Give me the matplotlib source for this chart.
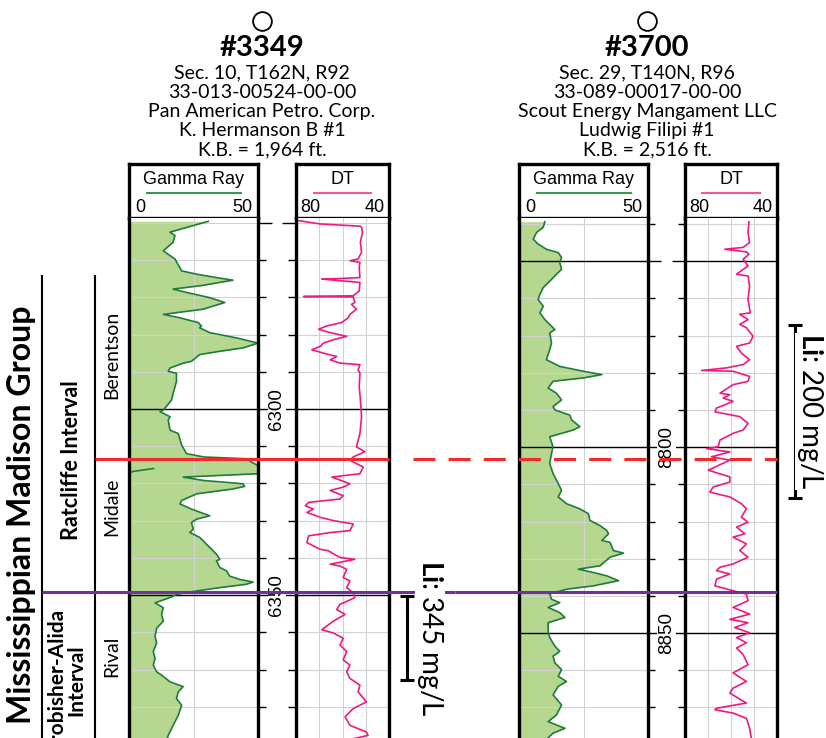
import numpy as np
import matplotlib.pyplot as plt

plt.rcParams['font.family'] = ['Lato', 'DejaVu Sans']
plt.rcParams['mathtext.fontset'] = 'custom'
plt.rcParams['mathtext.rm'] = 'Lato'
plt.rcParams['mathtext.bf'] = 'Lato:bold'

###############################################################################
# well #3349
w1_name = '#3349'
w1_info = ['Sec. 10, T162N, R92', '33-013-00524-00-00', 'Pan American Petro. Corp.',
           'K. Hermanson B #1', 'K.B. = 1,964 ft.']
w1_depth_range = (6248.7, 6388.4)
w1_depth_labels = [6300, 6350]
w1_top_midale = 6313.4
w1_top_rival = 6349.2
w1_li_interval = (6350.3, 6372.8)
w1_li_value = '345 mg/L'

w1_gr_depth = [6249.6, 6252.5, 6253.4, 6255.2, 6257.5, 6258.8, 6259.7, 6262.9, 6263.8, 6264.7,
               6265.4, 6266.0, 6266.8, 6267.8, 6268.7, 6270.1, 6271.4, 6273.2, 6274.6, 6275.5,
               6276.8, 6277.7, 6278.2, 6279.5, 6280.9, 6282.3, 6283.6, 6284.5, 6285.4, 6287.2,
               6287.7, 6289.0, 6289.9, 6290.4, 6292.6, 6295.8, 6297.6, 6300.3, 6300.7, 6302.1,
               6303.0, 6305.7, 6306.6, 6309.7, 6312.0, 6312.9, 6313.4, 6314.3, 6315.2, 6317.4,
               6318.3, 6319.2, 6320.1, 6320.8, 6321.5, 6322.8, 6324.6, 6325.5, 6326.9, 6328.7,
               6329.6, 6330.5, 6332.3, 6333.2, 6334.5, 6336.3, 6339.0, 6340.4, 6340.8, 6342.6,
               6343.5, 6344.9, 6345.8, 6346.5, 6347.1, 6348.0, 6348.9, 6349.8, 6350.5, 6352.1,
               6353.4, 6355.2, 6357.0, 6358.9, 6361.1, 6362.9, 6365.2, 6367.0, 6368.8, 6370.6,
               6371.5, 6373.3, 6374.6, 6376.0, 6377.8, 6379.6, 6382.3, 6385.0, 6387.7, 6389.0]
w1_gr = [30.7, 15.9, 17.8, 17.1, 13.3, 15.9, 17.8, 20.4, 26.2, 33.9,
         40.3, 35.2, 28.7, 17.1, 22.3, 31.3, 37.1, 28.7, 13.3, 19.7,
         26.8, 28.1, 27.4, 31.3, 41.6, 50.0, 44.2, 35.2, 27.4, 24.2,
         21.0, 15.9, 15.2, 18.4, 18.4, 17.1, 16.5, 13.3, 12.0, 15.9,
         15.2, 15.9, 19.1, 20.4, 22.3, 29.0, 46.0, 47.5, 50.0, 50.0,
         21.0, 28.7, 44.2, 44.8, 40.3, 26.2, 20.4, 19.7, 24.2, 31.3,
         26.2, 24.2, 24.9, 23.6, 27.4, 30.0, 33.9, 35.2, 33.9, 35.2,
         37.8, 39.0, 42.9, 48.1, 45.5, 35.2, 26.2, 18.4, 16.5, 10.1,
         13.3, 12.6, 13.3, 10.7, 10.1, 10.7, 9.4, 10.1, 9.4, 10.7,
         12.6, 15.9, 21.0, 19.1, 18.4, 20.4, 19.1, 17.1, 15.2, 14.6]
# wrapped (backup) part of the off-scale peak
w1_gr_wrap_depth = [6316.0, 6316.8, 6317.1]
w1_gr_wrap = [9.5, 1.5, 0.5]

w1_dt_depth = [6249.4, 6250.3, 6250.9, 6251.2, 6252.5, 6255.2, 6257.9, 6259.7, 6260.2, 6260.6,
               6262.0, 6264.7, 6265.0, 6265.1, 6265.4, 6266.0, 6268.3, 6269.6, 6269.8, 6269.9,
               6271.4, 6271.9, 6273.2, 6274.6, 6275.5, 6276.8, 6277.7, 6278.6, 6279.5, 6280.5,
               6281.4, 6282.3, 6283.2, 6284.1, 6285.0, 6285.9, 6286.8, 6287.7, 6288.1, 6289.5,
               6290.4, 6294.0, 6297.6, 6302.1, 6306.6, 6310.2, 6311.5, 6312.9, 6313.8, 6315.6,
               6317.4, 6318.3, 6320.1, 6321.0, 6321.9, 6323.3, 6324.2, 6325.1, 6326.0, 6326.9,
               6327.8, 6329.1, 6330.0, 6330.9, 6332.7, 6333.2, 6334.1, 6335.9, 6336.8, 6337.7,
               6338.1, 6339.9, 6340.4, 6341.7, 6342.2, 6343.1, 6345.3, 6346.2, 6348.0, 6349.4,
               6350.7, 6352.5, 6353.9, 6355.2, 6357.0, 6359.3, 6360.2, 6361.6, 6363.4, 6365.2,
               6367.4, 6368.8, 6370.6, 6372.4, 6374.2, 6376.0, 6378.7, 6380.5, 6382.7, 6385.0,
               6386.8, 6387.7, 6388.6]
w1_dt = [78.9, 69.6, 52.5, 51.8, 51.4, 52.3, 51.8, 53.3, 56.8, 52.5,
         52.8, 52.5, 62.5, 68.9, 63.9, 52.5, 52.8, 55.4, 76.7, 55.4,
         54.7, 56.1, 54.0, 56.8, 57.5, 60.4, 66.8, 70.3, 65.3, 58.2,
         63.9, 68.2, 69.6, 73.2, 68.2, 62.5, 65.3, 61.1, 52.5, 53.3,
         52.5, 52.8, 52.3, 51.8, 52.5, 54.0, 50.4, 55.4, 56.8, 51.1,
         52.5, 64.6, 56.8, 59.7, 65.3, 59.7, 61.1, 74.6, 76.0, 72.5,
         75.3, 69.6, 63.9, 55.4, 56.8, 65.3, 74.6, 75.3, 72.5, 69.6,
         66.1, 61.1, 54.7, 65.3, 61.1, 58.2, 59.7, 56.8, 58.2, 55.4,
         54.7, 61.1, 62.5, 58.9, 63.9, 68.9, 63.9, 59.7, 61.1, 58.2,
         59.7, 56.8, 58.2, 56.8, 52.5, 53.3, 49.7, 55.4, 58.9, 56.8,
         49.7, 49.0, 55.4]

###############################################################################
# well #3700
w2_name = '#3700'
w2_info = ['Sec. 29, T140N, R96', '33-089-00017-00-00', 'Scout Energy Mangament LLC',
           'Ludwig Filipi #1', 'K.B. = 2,516 ft.']
w2_depth_range = (8738.4, 8878.2)
w2_depth_labels = [8800, 8850]
w2_top_midale = 8803.2
w2_top_rival = 8839.0
w2_li_interval = (8767.2, 8813.7)
w2_li_value = '200 mg/L'

w2_gr_depth = [8739.4, 8740.9, 8742.3, 8744.1, 8745.4, 8746.8, 8747.7, 8749.0, 8750.4, 8752.2,
               8753.5, 8754.9, 8757.1, 8758.9, 8760.3, 8762.1, 8763.9, 8765.7, 8767.5, 8768.4,
               8769.3, 8772.0, 8773.8, 8776.5, 8778.3, 8779.6, 8780.5, 8781.4, 8782.3, 8784.1,
               8785.5, 8787.3, 8789.1, 8790.0, 8791.4, 8792.7, 8794.5, 8795.4, 8797.2, 8799.9,
               8801.7, 8804.4, 8807.1, 8809.8, 8811.6, 8813.4, 8815.2, 8816.6, 8817.9, 8819.7,
               8821.1, 8822.4, 8823.3, 8824.7, 8825.1, 8825.6, 8827.8, 8828.5, 8829.6, 8831.9,
               8832.8, 8833.7, 8834.6, 8835.9, 8837.3, 8838.2, 8839.5, 8840.9, 8841.8, 8843.1,
               8844.5, 8845.8, 8847.2, 8849.4, 8851.2, 8853.5, 8854.9, 8856.2, 8858.0, 8859.8,
               8861.6, 8863.0, 8864.3, 8866.6, 8869.3, 8872.0, 8873.8, 8875.6, 8876.9, 8878.6]
w2_gr = [10.0, 9.4, 6.8, 5.5, 7.4, 10.6, 15.2, 16.5, 15.8, 16.5,
         14.5, 12.6, 9.4, 8.1, 7.4, 9.4, 8.1, 10.0, 12.6, 13.9,
         11.9, 12.6, 11.9, 10.6, 15.8, 24.9, 32.1, 24.9, 13.2, 11.3,
         14.5, 16.5, 13.2, 13.9, 19.7, 20.4, 23.6, 21.0, 11.9, 13.2,
         12.6, 11.9, 13.2, 15.2, 16.5, 15.2, 18.4, 23.6, 26.9, 27.5,
         31.4, 34.0, 34.7, 32.7, 32.1, 35.3, 36.6, 40.5, 35.3, 31.4,
         23.0, 28.8, 34.0, 38.6, 28.8, 18.4, 11.9, 12.6, 15.8, 11.3,
         15.8, 17.8, 11.3, 11.3, 11.9, 13.9, 15.8, 13.2, 13.9, 16.5,
         15.2, 18.4, 15.2, 13.2, 16.5, 14.5, 11.3, 17.8, 13.2, 10.6]

w2_dt_depth = [8739.4, 8742.3, 8745.0, 8746.3, 8746.8, 8747.5, 8748.1, 8749.5, 8751.3, 8753.5,
               8754.0, 8756.7, 8760.3, 8763.9, 8764.3, 8765.7, 8767.0, 8767.9, 8770.2, 8772.0,
               8772.9, 8774.7, 8776.5, 8777.8, 8778.7, 8779.4, 8779.6, 8781.0, 8782.3, 8783.2,
               8785.5, 8785.9, 8786.8, 8787.7, 8789.5, 8790.5, 8791.8, 8793.6, 8795.4, 8796.3,
               8798.1, 8799.9, 8800.4, 8801.3, 8802.6, 8803.5, 8806.2, 8808.0, 8809.4, 8810.7,
               8812.1, 8813.4, 8815.2, 8816.6, 8818.8, 8820.2, 8821.5, 8823.3, 8824.2, 8826.0,
               8827.8, 8829.6, 8831.4, 8832.3, 8833.2, 8834.1, 8835.5, 8837.3, 8838.6, 8839.5,
               8841.3, 8843.1, 8844.9, 8846.3, 8847.2, 8848.5, 8849.9, 8851.2, 8852.6, 8854.0,
               8855.8, 8858.5, 8860.7, 8863.0, 8864.8, 8866.1, 8867.5, 8868.8, 8870.2, 8870.6,
               8871.5, 8872.9, 8875.6, 8878.6]
w2_dt = [52.2, 52.6, 51.9, 54.7, 62.7, 53.3, 52.2, 54.7, 52.6, 57.6,
         52.6, 51.9, 52.6, 51.6, 56.2, 52.6, 56.2, 53.3, 50.4, 51.9,
         57.6, 55.5, 51.9, 54.7, 62.0, 72.8, 59.1, 51.9, 52.6, 59.1,
         64.8, 60.5, 63.4, 59.1, 66.3, 67.0, 56.2, 52.6, 54.7, 59.1,
         64.8, 65.6, 70.6, 60.5, 68.5, 60.5, 69.9, 60.5, 60.5, 67.7,
         69.2, 60.5, 55.5, 53.3, 55.5, 52.6, 57.6, 54.0, 59.1, 53.3,
         56.2, 52.6, 59.1, 64.8, 66.3, 60.5, 66.3, 67.0, 59.1, 53.3,
         52.6, 59.1, 51.9, 60.5, 52.6, 58.4, 51.9, 57.6, 53.3, 57.6,
         54.7, 52.6, 59.1, 53.3, 59.1, 60.5, 56.9, 53.3, 66.3, 67.0,
         59.1, 53.3, 51.9, 51.1]

###############################################################################
W, H = 826, 738
HEAD_TOP, HEAD_BOT, TRACK_TOP = 164, 218, 218
fill_green = '#b5d78f'
gr_green = '#1f7d3b'
dt_pink = '#ee1a80'
top_red = '#f22a2a'
top_purple = '#7030a0'
grid_grey = '#d2d2d2'
border_lw = 2.4


def px_box(x0, y0, x1, y1):
    """figure fraction box from pixel corners (y down)"""
    return [x0 / W, 1 - y1 / H, (x1 - x0) / W, (y1 - y0) / H]


def log_track(x0, x1, dlim):
    ax = fig.add_axes(px_box(x0, TRACK_TOP, x1, H))
    ax.set_ylim(dlim[1], dlim[0])
    ax.set_yticks(np.arange(np.ceil(dlim[0] / 10) * 10, dlim[1], 10))
    ax.grid(True, color=grid_grey, lw=0.8)
    ax.tick_params(length=0, labelleft=False, labelbottom=False)
    for s in ['top', 'bottom']:
        ax.spines[s].set_visible(False)
    for s in ['left', 'right']:
        ax.spines[s].set_linewidth(border_lw)
    for m in np.arange(np.ceil(dlim[0] / 50) * 50, dlim[1], 50):
        if m > dlim[0] + 2:
            ax.axhline(m, color='black', lw=1.0, zorder=1.6)
    return ax


def header_box(x0, x1, title, lo, hi, color, line_span):
    hx = fig.add_axes(px_box(x0, HEAD_TOP, x1, HEAD_BOT))
    hx.set_xticks([])
    hx.set_yticks([])
    for s in hx.spines.values():
        s.set_linewidth(border_lw)
    kw = dict(transform=hx.transAxes, va='center', fontsize=13, family='Liberation Sans')
    hx.text(0.5, 0.72, title, ha='center', **kw)
    hx.plot(line_span, [0.46, 0.46], color=color, lw=1.5, transform=hx.transAxes)
    hx.text(0.045, 0.2, lo, ha='left', **kw)
    hx.text(0.955, 0.2, hi, ha='right', **kw)


def draw_well(cx, name, info, x_gr, x_dt, dlim, gr_d, gr_v, dt_d, dt_v, labels):
    # title block
    lay.plot(cx, 21, marker='o', ms=13.5, mfc='white', mec='black', mew=1.3)
    lay.text(cx, 48, name, ha='center', va='center', fontsize=21, fontweight='bold')
    for i, line in enumerate(info):
        lay.text(cx, 73 + 19.3 * i, line, ha='center', va='center', fontsize=14)

    header_box(x_gr[0], x_gr[1], 'Gamma Ray', '0', '50', '#3a9a55', [0.14, 0.87])
    header_box(x_dt[0], x_dt[1], 'DT', '80', '40', '#f0589a', [0.19, 0.81])

    gx = log_track(x_gr[0], x_gr[1], dlim)
    gx.set_xlim(0, 50)
    gx.set_xticks([25])
    gx.fill_betweenx(gr_d, 0, gr_v, color=fill_green, lw=0)
    gx.plot(gr_v, gr_d, color=gr_green, lw=1.2)

    tx = log_track(x_dt[0], x_dt[1], dlim)
    tx.set_xlim(80, 40)
    tx.set_xticks([70, 60, 50])
    tx.plot(dt_v, dt_d, color=dt_pink, lw=1.2)

    # depth track
    dx = fig.add_axes(px_box(x_gr[1], TRACK_TOP, x_dt[0], H))
    dx.set_xlim(0, 1)
    dx.set_ylim(dlim[1], dlim[0])
    dx.axis('off')
    for d in np.arange(np.ceil(dlim[0] / 10) * 10, dlim[1], 10):
        ln = 0.36 if d % 50 == 0 else 0.2
        dx.hlines(d, 0, ln, color='black', lw=1.0)
        dx.hlines(d, 1 - ln, 1, color='black', lw=1.0)
    for d in labels:
        dx.text(0.5, d, str(d), rotation=90, ha='center', va='center', fontsize=13.5,
                family='Liberation Sans', bbox=dict(fc='white', ec='none', pad=0.5))
    return gx


def overlay(dlim):
    ov = fig.add_axes(px_box(0, TRACK_TOP, W, H), zorder=5)
    ov.set_xlim(0, W)
    ov.set_ylim(dlim[1], dlim[0])
    ov.axis('off')
    return ov


def li_bracket(ov, x, interval, value, text_x):
    ov.vlines(x, interval[0], interval[1], color='black', lw=2.2)
    ov.hlines(interval, x - 7, x + 7, color='black', lw=2.2)
    ov.text(text_x, np.mean(interval), r'$\mathbf{Li}$: ' + value, rotation=-90,
            ha='center', va='center', fontsize=20, zorder=6,
            bbox=dict(fc='white', ec='none', pad=0.3))


fig = plt.figure(figsize=(W / 100, H / 100), dpi=100)
lay = fig.add_axes([0, 0, 1, 1])
lay.set_xlim(0, W)
lay.set_ylim(H, 0)
lay.axis('off')

g1 = draw_well(262, w1_name, w1_info, (129, 258), (296, 389), w1_depth_range,
               w1_gr_depth, w1_gr, w1_dt_depth, w1_dt, w1_depth_labels)
g1.plot(w1_gr_wrap, w1_gr_wrap_depth, color=gr_green, lw=1.2)
draw_well(647, w2_name, w2_info, (519, 648), (685, 777), w2_depth_range,
          w2_gr_depth, w2_gr, w2_dt_depth, w2_dt, w2_depth_labels)

# stratigraphic column
lay.vlines([42, 95], 275, H, color='black', lw=1.5)
lay.text(22, 515, 'Mississippian Madison Group', rotation=90, ha='center', va='center',
         fontsize=23, fontweight='bold')
lay.text(71, 460, 'Ratcliffe Interval', rotation=90, ha='center', va='center',
         fontsize=15.5, fontweight='bold')
lay.text(66, 680, 'Frobisher-Alida\nInterval', rotation=90, ha='center', va='center',
         fontsize=15, fontweight='bold', linespacing=1.0, multialignment='center')
lay.text(112, 355, 'Berentson', rotation=90, ha='center', va='center', fontsize=14)
lay.text(112, 507, 'Midale', rotation=90, ha='center', va='center', fontsize=14)
lay.text(112, 656, 'Rival', rotation=90, ha='center', va='center', fontsize=14)

# correlation tops and Li intervals
ov1 = overlay(w1_depth_range)
ov2 = overlay(w2_depth_range)
ov1.hlines(w1_top_midale, 95, 389, color=top_red, lw=2.2)
ov2.hlines(w2_top_midale, 413, 777, color=top_red, lw=2.2, linestyles=(0, (7.2, 4.3)))
ov1.hlines(w1_top_rival, 42, 455, color=top_purple, lw=2.2)
ov2.hlines(w2_top_rival, 455, 777, color=top_purple, lw=2.2)
li_bracket(ov1, 407, w1_li_interval, w1_li_value, 430)
li_bracket(ov2, 795, w2_li_interval, w2_li_value, 810)

fig.savefig('out.png', dpi=100)
